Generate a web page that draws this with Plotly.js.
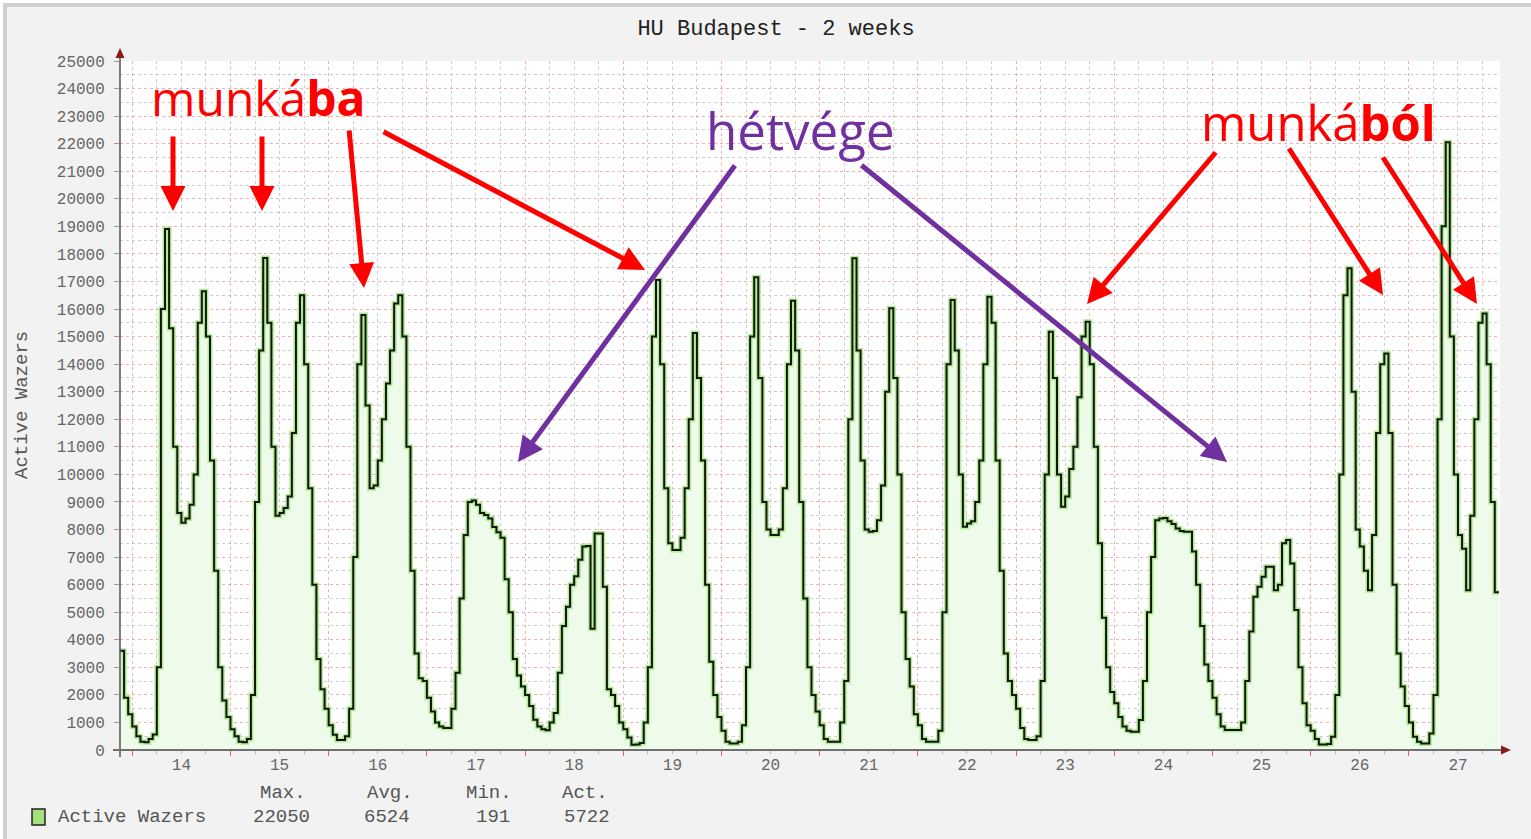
<!DOCTYPE html>
<html>
<head>
<meta charset="utf-8">
<script src="https://cdn.plot.ly/plotly-3.0.1.min.js"></script>
<style>
  html, body { margin:0; padding:0; background:#ffffff; width:1531px; height:839px; overflow:hidden; }
  #chart { position:absolute; left:0; top:0; width:1531px; height:839px; }
  .frame { position:absolute; pointer-events:none; }
</style>
</head>
<body>
<div id="chart"></div>
<div class="frame" style="left:0;top:0;width:1531px;height:3px;background:#ffffff;"></div>
<div class="frame" style="left:0;top:0;width:3px;height:839px;background:#ffffff;"></div>
<div class="frame" style="left:3px;top:3px;width:1528px;height:4px;background:#cfcfcf;"></div>
<div class="frame" style="left:3px;top:3px;width:4px;height:836px;background:#cfcfcf;"></div>
<script>
// ---------------- DATA ----------------
const TITLE = 'HU Budapest - 2 weeks';
const SERIES_NAME = 'Active Wazers';
const DAY_TICKS  = [14, 15, 16, 17, 18, 19, 20, 21, 22, 23, 24, 25, 26, 27];
const DAY_LABELS = ['14','15','16','17','18','19','20','21','22','23','24','25','26','27'];

// hourly values (hour 0..23) for each day; day 13 starts at 21:00, day 27 ends at 21:00
const day13 = [3600, 1900, 1300];
const day14 = [850, 500, 300, 280, 400, 560, 3000, 16000, 18900, 15300, 11000, 8600, 8250, 8400, 8900, 10000, 15500, 16650, 15000, 10500, 6500, 3000, 1800, 1200];
const day15 = [750, 500, 300, 280, 400, 2000, 9000, 14500, 17850, 15500, 11000, 8500, 8600, 8780, 9200, 11500, 15500, 16500, 14000, 9500, 6000, 3300, 2200, 1500];
const day16 = [900, 550, 360, 360, 500, 1500, 7000, 14000, 15780, 12500, 9500, 9600, 10500, 12000, 13300, 14500, 16200, 16500, 15000, 11000, 6500, 3500, 2600, 2500];
const day17 = [1900, 1400, 1000, 850, 800, 800, 1500, 2800, 5500, 7800, 9000, 9050, 8900, 8600, 8530, 8400, 8090, 7900, 7700, 6200, 5000, 3300, 2700, 2300];
const day18 = [2000, 1600, 1100, 850, 750, 720, 1000, 1340, 2800, 4500, 5200, 6000, 6300, 6900, 7380, 7400, 4400, 7860, 7860, 5920, 2200, 2000, 1600, 1000];
const day19 = [750, 450, 191, 200, 250, 1000, 3000, 15000, 17050, 14000, 9500, 7500, 7260, 7260, 7700, 9500, 12000, 15130, 13500, 10500, 6000, 3200, 2000, 1200];
const day20 = [700, 300, 240, 240, 300, 900, 3000, 15000, 17150, 13500, 9000, 8000, 7800, 7800, 8000, 9500, 14000, 16300, 14500, 9000, 5500, 3000, 2000, 1400];
const day21 = [900, 400, 300, 300, 300, 1000, 2500, 12000, 17840, 14500, 10500, 8000, 7920, 7950, 8340, 9600, 13000, 16030, 13500, 10000, 5000, 3300, 2300, 1300];
const day22 = [900, 400, 300, 300, 300, 700, 5000, 14000, 16330, 14500, 10000, 8100, 8220, 8300, 9000, 10500, 14000, 16450, 15500, 10500, 6500, 3500, 2500, 2000];
const day23 = [1500, 800, 400, 360, 360, 500, 2500, 10000, 15180, 13500, 10000, 8830, 9200, 10200, 11000, 12800, 15000, 15540, 14000, 11000, 7500, 4800, 3000, 2100];
const day24 = [1700, 1200, 850, 700, 660, 660, 1090, 2500, 5000, 7000, 8340, 8400, 8420, 8300, 8200, 8040, 7950, 7920, 7920, 7200, 6000, 4500, 3100, 2500];
const day25 = [1900, 1300, 850, 725, 725, 725, 725, 1000, 2500, 4300, 5560, 5920, 6290, 6650, 6650, 5800, 6000, 7500, 7620, 6770, 5080, 3000, 1700, 900];
const day26 = [700, 400, 200, 200, 220, 480, 2000, 10000, 16500, 17480, 13000, 8000, 7380, 6500, 5800, 7800, 11500, 14000, 14390, 11500, 6000, 3500, 2300, 1600];
const day27 = [1000, 480, 300, 240, 240, 600, 2000, 12000, 19000, 22050, 15000, 10000, 7800, 7300, 5800, 8500, 12000, 15500, 15840, 14000, 9000, 5722];

const STAT_HEADERS = ['Max.', 'Avg.', 'Min.', 'Act.'];
const STAT_VALUES  = ['22050', '6524', '191', '5722'];

// ---------------- BUILD ----------------
const values = [].concat(day13, day14, day15, day16, day17, day18, day19, day20,
                         day21, day22, day23, day24, day25, day26, day27);
const FIRST_X = 13 - 0.5 + 21 / 24;     // day 13, 21:00 (day label sits at noon)
const xs = values.map((v, i) => FIRST_X + i / 24);
// let the last hourly step run for its hour
const xsStep = xs.concat([xs[xs.length - 1] + 1 / 24]);
const ysStep = values.concat([values[values.length - 1]]);

const X_RANGE = [13.375, 13.375 + 1380 / 98.2];

// pixel -> paper helpers (plot area: x 120..1500, y 61..750)
const L = 120, R = 1500, T = 61, B = 750;
const PX = p => (p - L) / (R - L);
const PY = p => (B - p) / (B - T);

const MONO = 'Liberation Mono, DejaVu Sans Mono, monospace';
const BIG = 'Open Sans, Noto Sans, sans-serif';

const traces = [
  { x: xsStep, y: ysStep, type: 'scatter', mode: 'lines', xaxis: 'x', yaxis: 'y',
    line: { shape: 'hv', color: '#b2ec94', width: 5 },
    fill: 'tozeroy', fillcolor: '#eefbea', hoverinfo: 'skip', name: SERIES_NAME },
  { x: xsStep, y: ysStep, type: 'scatter', mode: 'lines', xaxis: 'x', yaxis: 'y',
    line: { shape: 'hv', color: '#141414', width: 2 }, hoverinfo: 'skip', name: SERIES_NAME },
  { x: [], y: [], type: 'scatter', mode: 'lines', xaxis: 'x2', yaxis: 'y', hoverinfo: 'skip', showlegend: false }
];

const RED = '#ff0000', PURPLE = '#7030a0';
function arrow(tipX, tipY, tailX, tailY, color) {
  return { xref: 'paper', yref: 'paper', x: PX(tipX), y: PY(tipY), text: '',
           showarrow: true, ax: tailX - tipX, ay: tailY - tipY,
           arrowcolor: color, arrowwidth: 5, arrowhead: 2, arrowsize: 1, standoff: 0 };
}
function label(text, cx, cy, anchor, size, color, family, angle) {
  return { xref: 'paper', yref: 'paper', x: PX(cx), y: PY(cy), text: text, showarrow: false,
           xanchor: anchor, yanchor: 'middle', textangle: angle || 0,
           font: { family: family, size: size, color: color } };
}

const annotations = [
  label('munká<b>ba</b>', 258, 98, 'center', 48, RED, BIG),
  label('hétvége', 800, 130, 'center', 51, PURPLE, BIG),
  label('munká<b>ból</b>', 1318, 122, 'center', 49, RED, BIG),
  arrow(173, 211, 173, 135, RED),
  arrow(262, 211, 262, 135, RED),
  arrow(364, 288, 349, 129, RED),
  arrow(645, 270, 382, 131, RED),
  arrow(518, 462, 736, 164, PURPLE),
  arrow(1227, 462, 860, 164, PURPLE),
  arrow(1087, 304, 1217, 151, RED),
  arrow(1383, 295, 1288, 147, RED),
  arrow(1477, 304, 1382, 156, RED),
  label(SERIES_NAME, 22, 405, 'center', 19, '#555', MONO, -90),
  label(SERIES_NAME, 56, 817, 'left', 19, '#555', MONO)
];
const headerX = [283, 390, 489, 585];
const valueRight = [312, 412, 512, 612];
STAT_HEADERS.forEach((h, i) => annotations.push(label(h, headerX[i], 793, 'center', 19, '#555', MONO)));
STAT_VALUES.forEach((v, i) => annotations.push(label(v, valueRight[i], 817, 'right', 19, '#555', MONO)));

const shapes = [
  // axis extensions
  { type: 'line', xref: 'paper', yref: 'paper', x0: PX(120), x1: PX(120), y0: PY(757), y1: PY(55), line: { color: '#555', width: 1.5 } },
  { type: 'line', xref: 'paper', yref: 'paper', x0: PX(113), x1: PX(1503), y0: PY(750), y1: PY(750), line: { color: '#707070', width: 2 } },
  { type: 'path', xref: 'paper', yref: 'paper',
    path: `M ${PX(120)} ${PY(48)} L ${PX(115.5)} ${PY(58)} L ${PX(124.5)} ${PY(58)} Z`,
    fillcolor: '#8b1a1a', line: { width: 0 } },
  { type: 'path', xref: 'paper', yref: 'paper',
    path: `M ${PX(1511)} ${PY(750)} L ${PX(1501)} ${PY(745.5)} L ${PX(1501)} ${PY(754.5)} Z`,
    fillcolor: '#8b1a1a', line: { width: 0 } },
  // legend swatch
  { type: 'rect', xref: 'paper', yref: 'paper', x0: PX(32), x1: PX(45), y0: PY(825), y1: PY(809),
    fillcolor: '#a6e07c', line: { color: '#222', width: 1.5 } }
];

const GRID_RED = 'rgba(240,120,120,0.6)';
const GRID_GRAY = '#cdcdcd';

const layout = {
  width: 1531, height: 839,
  paper_bgcolor: '#f2f2f2', plot_bgcolor: '#ffffff',
  margin: { l: 120, r: 31, t: 61, b: 89 },
  showlegend: false,
  title: { text: TITLE, xref: 'container', yref: 'container', x: 776 / 1531, y: 1 - 27 / 839,
           xanchor: 'center', yanchor: 'middle', font: { family: MONO, size: 22, color: '#222' } },
  xaxis: { range: X_RANGE, tickmode: 'array', tickvals: DAY_TICKS, ticktext: DAY_LABELS,
           showgrid: false, zeroline: false, showline: false, ticks: '',
           ticklabelstandoff: 3,
           tickfont: { family: MONO, size: 16, color: '#666' } },
  xaxis2: { overlaying: 'x', anchor: 'y', side: 'bottom', range: X_RANGE, tickmode: 'linear',
            tick0: 13.5, dtick: 1, showgrid: true, gridcolor: GRID_RED, griddash: 'dot', gridwidth: 1,
            showticklabels: false, ticks: 'outside', ticklen: 5, tickcolor: '#e06060', zeroline: false, showline: false,
            minor: { tick0: 13.5, dtick: 0.25, showgrid: true, gridcolor: GRID_GRAY, griddash: 'dot', gridwidth: 1,
                     ticks: 'outside', ticklen: 3, tickcolor: '#bbbbbb' } },
  yaxis: { range: [0, 25000], tickmode: 'linear', tick0: 0, dtick: 1000, tickformat: 'd',
           showgrid: true, gridcolor: GRID_RED, griddash: 'dot', gridwidth: 1,
           minor: { dtick: 500, showgrid: true, gridcolor: GRID_GRAY, griddash: 'dot', gridwidth: 1 },
           zeroline: false, showline: false, ticks: 'outside', ticklen: 5, tickcolor: '#999',
           ticklabelstandoff: 6,
           tickfont: { family: MONO, size: 16, color: '#666' } },
  annotations: annotations,
  shapes: shapes
};

Plotly.newPlot('chart', traces, layout, { staticPlot: true, displayModeBar: false });
</script>
</body>
</html>
